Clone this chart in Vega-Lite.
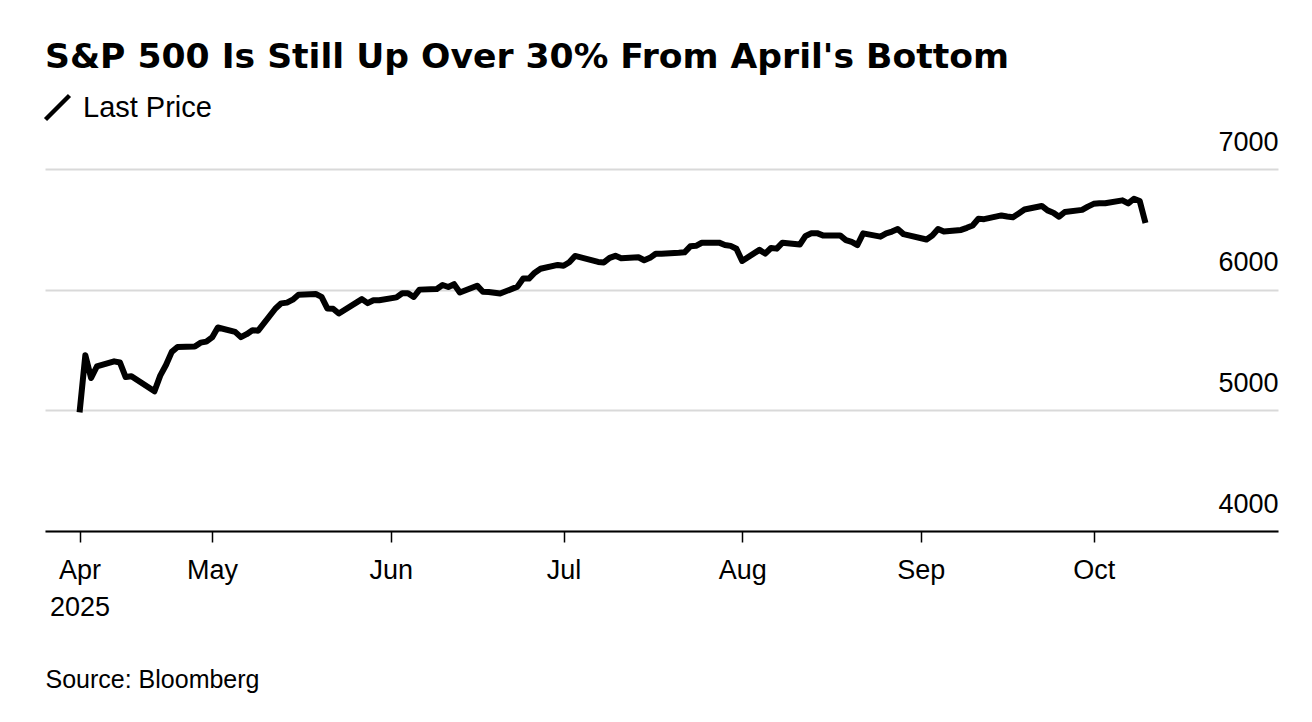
{
  "$schema": "https://vega.github.io/schema/vega-lite/v6.json",
  "autosize": "none",
  "width": 1233,
  "height": 362,
  "padding": {"left": 45, "top": 169, "right": 34, "bottom": 191},
  "background": "white",
  "title": {
    "text": "S&P 500 Is Still Up Over 30% From April's Bottom",
    "anchor": "start",
    "frame": "group",
    "font": "DejaVu Sans",
    "fontSize": 34.6,
    "fontWeight": "bold",
    "color": "black",
    "baseline": "alphabetic",
    "offset": -10
  },
  "config": {
    "view": {"stroke": null},
    "font": "Liberation Sans"
  },
  "data": {
    "values": [
      {"date": "2025-04-08", "price": 4982.77},
      {"date": "2025-04-09", "price": 5456.90},
      {"date": "2025-04-10", "price": 5268.05},
      {"date": "2025-04-11", "price": 5363.36},
      {"date": "2025-04-14", "price": 5405.97},
      {"date": "2025-04-15", "price": 5396.63},
      {"date": "2025-04-16", "price": 5275.70},
      {"date": "2025-04-17", "price": 5282.70},
      {"date": "2025-04-21", "price": 5158.20},
      {"date": "2025-04-22", "price": 5287.76},
      {"date": "2025-04-23", "price": 5375.86},
      {"date": "2025-04-24", "price": 5484.77},
      {"date": "2025-04-25", "price": 5525.21},
      {"date": "2025-04-28", "price": 5528.75},
      {"date": "2025-04-29", "price": 5560.83},
      {"date": "2025-04-30", "price": 5569.06},
      {"date": "2025-05-01", "price": 5604.14},
      {"date": "2025-05-02", "price": 5686.67},
      {"date": "2025-05-05", "price": 5650.38},
      {"date": "2025-05-06", "price": 5606.91},
      {"date": "2025-05-07", "price": 5631.28},
      {"date": "2025-05-08", "price": 5663.94},
      {"date": "2025-05-09", "price": 5659.91},
      {"date": "2025-05-12", "price": 5844.19},
      {"date": "2025-05-13", "price": 5886.55},
      {"date": "2025-05-14", "price": 5892.58},
      {"date": "2025-05-15", "price": 5916.93},
      {"date": "2025-05-16", "price": 5958.38},
      {"date": "2025-05-19", "price": 5963.60},
      {"date": "2025-05-20", "price": 5940.46},
      {"date": "2025-05-21", "price": 5844.61},
      {"date": "2025-05-22", "price": 5842.01},
      {"date": "2025-05-23", "price": 5802.82},
      {"date": "2025-05-27", "price": 5921.54},
      {"date": "2025-05-28", "price": 5888.55},
      {"date": "2025-05-29", "price": 5912.17},
      {"date": "2025-05-30", "price": 5911.69},
      {"date": "2025-06-02", "price": 5935.94},
      {"date": "2025-06-03", "price": 5970.37},
      {"date": "2025-06-04", "price": 5970.81},
      {"date": "2025-06-05", "price": 5939.30},
      {"date": "2025-06-06", "price": 6000.36},
      {"date": "2025-06-09", "price": 6005.88},
      {"date": "2025-06-10", "price": 6038.81},
      {"date": "2025-06-11", "price": 6022.24},
      {"date": "2025-06-12", "price": 6045.26},
      {"date": "2025-06-13", "price": 5976.97},
      {"date": "2025-06-16", "price": 6033.11},
      {"date": "2025-06-17", "price": 5982.72},
      {"date": "2025-06-18", "price": 5980.87},
      {"date": "2025-06-20", "price": 5967.84},
      {"date": "2025-06-23", "price": 6025.17},
      {"date": "2025-06-24", "price": 6092.18},
      {"date": "2025-06-25", "price": 6092.16},
      {"date": "2025-06-26", "price": 6141.02},
      {"date": "2025-06-27", "price": 6173.07},
      {"date": "2025-06-30", "price": 6204.95},
      {"date": "2025-07-01", "price": 6198.01},
      {"date": "2025-07-02", "price": 6227.42},
      {"date": "2025-07-03", "price": 6279.35},
      {"date": "2025-07-07", "price": 6229.98},
      {"date": "2025-07-08", "price": 6225.52},
      {"date": "2025-07-09", "price": 6263.26},
      {"date": "2025-07-10", "price": 6280.46},
      {"date": "2025-07-11", "price": 6259.75},
      {"date": "2025-07-14", "price": 6268.56},
      {"date": "2025-07-15", "price": 6243.76},
      {"date": "2025-07-16", "price": 6263.70},
      {"date": "2025-07-17", "price": 6297.36},
      {"date": "2025-07-18", "price": 6296.79},
      {"date": "2025-07-21", "price": 6305.60},
      {"date": "2025-07-22", "price": 6309.62},
      {"date": "2025-07-23", "price": 6358.91},
      {"date": "2025-07-24", "price": 6363.35},
      {"date": "2025-07-25", "price": 6388.64},
      {"date": "2025-07-28", "price": 6389.77},
      {"date": "2025-07-29", "price": 6370.86},
      {"date": "2025-07-30", "price": 6362.90},
      {"date": "2025-07-31", "price": 6339.39},
      {"date": "2025-08-01", "price": 6238.01},
      {"date": "2025-08-04", "price": 6329.94},
      {"date": "2025-08-05", "price": 6299.19},
      {"date": "2025-08-06", "price": 6345.06},
      {"date": "2025-08-07", "price": 6340.00},
      {"date": "2025-08-08", "price": 6389.45},
      {"date": "2025-08-11", "price": 6373.45},
      {"date": "2025-08-12", "price": 6445.76},
      {"date": "2025-08-13", "price": 6466.58},
      {"date": "2025-08-14", "price": 6468.54},
      {"date": "2025-08-15", "price": 6449.80},
      {"date": "2025-08-18", "price": 6449.15},
      {"date": "2025-08-19", "price": 6411.37},
      {"date": "2025-08-20", "price": 6395.78},
      {"date": "2025-08-21", "price": 6370.17},
      {"date": "2025-08-22", "price": 6466.91},
      {"date": "2025-08-25", "price": 6439.32},
      {"date": "2025-08-26", "price": 6465.94},
      {"date": "2025-08-27", "price": 6481.40},
      {"date": "2025-08-28", "price": 6501.86},
      {"date": "2025-08-29", "price": 6460.26},
      {"date": "2025-09-02", "price": 6415.54},
      {"date": "2025-09-03", "price": 6448.26},
      {"date": "2025-09-04", "price": 6502.08},
      {"date": "2025-09-05", "price": 6481.50},
      {"date": "2025-09-08", "price": 6495.15},
      {"date": "2025-09-09", "price": 6512.61},
      {"date": "2025-09-10", "price": 6532.04},
      {"date": "2025-09-11", "price": 6587.47},
      {"date": "2025-09-12", "price": 6584.29},
      {"date": "2025-09-15", "price": 6615.28},
      {"date": "2025-09-16", "price": 6606.76},
      {"date": "2025-09-17", "price": 6600.35},
      {"date": "2025-09-18", "price": 6631.96},
      {"date": "2025-09-19", "price": 6664.36},
      {"date": "2025-09-22", "price": 6693.75},
      {"date": "2025-09-23", "price": 6656.92},
      {"date": "2025-09-24", "price": 6637.97},
      {"date": "2025-09-25", "price": 6604.72},
      {"date": "2025-09-26", "price": 6643.70},
      {"date": "2025-09-29", "price": 6661.21},
      {"date": "2025-09-30", "price": 6688.46},
      {"date": "2025-10-01", "price": 6711.20},
      {"date": "2025-10-02", "price": 6715.35},
      {"date": "2025-10-03", "price": 6715.79},
      {"date": "2025-10-06", "price": 6740.28},
      {"date": "2025-10-07", "price": 6714.59},
      {"date": "2025-10-08", "price": 6753.72},
      {"date": "2025-10-09", "price": 6735.11},
      {"date": "2025-10-10", "price": 6552.51}
    ]
  },
  "mark": {"type": "line", "strokeWidth": 6, "strokeJoin": "round"},
  "encoding": {
    "x": {
      "field": "date",
      "type": "temporal",
      "scale": {
        "type": "utc",
        "domain": [
          {"year": 2025, "month": 4, "date": 2, "utc": true},
          {"year": 2025, "month": 11, "date": 2, "utc": true}
        ]
      },
      "axis": {
        "values": [
          {"year": 2025, "month": 4, "date": 8, "utc": true},
          {"year": 2025, "month": 5, "date": 1, "utc": true},
          {"year": 2025, "month": 6, "date": 1, "utc": true},
          {"year": 2025, "month": 7, "date": 1, "utc": true},
          {"year": 2025, "month": 8, "date": 1, "utc": true},
          {"year": 2025, "month": 9, "date": 1, "utc": true},
          {"year": 2025, "month": 10, "date": 1, "utc": true}
        ],
        "labelExpr": "datum.index == 0 ? [utcFormat(datum.value, '%b'), utcFormat(datum.value, '%Y')] : utcFormat(datum.value, '%b')",
        "grid": false,
        "domain": true,
        "domainColor": "black",
        "domainWidth": 2,
        "ticks": true,
        "tickColor": "black",
        "tickSize": 11,
        "tickWidth": 1.5,
        "labelFontSize": 27,
        "labelColor": "black",
        "labelPadding": 15,
        "labelLineHeight": 37,
        "labelOverlap": false,
        "labelFlush": false,
        "title": "Source: Bloomberg",
        "titleAnchor": "start",
        "titleAlign": "left",
        "titleBaseline": "alphabetic",
        "titleX": 0,
        "titleY": 156,
        "titleFontSize": 25,
        "titleFontWeight": "normal",
        "titleColor": "black"
      }
    },
    "y": {
      "field": "price",
      "type": "quantitative",
      "scale": {"domain": [4000, 7000], "nice": false, "zero": false},
      "axis": {
        "orient": "right",
        "values": [4000, 5000, 6000, 7000],
        "format": "d",
        "grid": true,
        "gridColor": "#d9d9d9",
        "gridWidth": 2,
        "domain": false,
        "ticks": false,
        "tickSize": 0,
        "labelAlign": "right",
        "labelBaseline": "alphabetic",
        "labelPadding": 0,
        "labelOffset": -19,
        "labelFontSize": 27,
        "labelColor": "black",
        "labelFlush": false,
        "labelOverlap": false,
        "title": null
      }
    },
    "color": {
      "datum": "Last Price",
      "type": "nominal",
      "scale": {"range": ["black"]},
      "legend": {
        "title": null,
        "orient": "none",
        "legendX": -2,
        "legendY": -76,
        "padding": 0,
        "symbolType": "M-1,1L1,-1",
        "symbolSize": 576,
        "symbolStrokeWidth": 4.5,
        "symbolStrokeColor": "black",
        "symbolFillColor": "transparent",
        "labelFont": "Liberation Sans",
        "labelFontSize": 29,
        "labelColor": "black",
        "labelOffset": 11
      }
    }
  }
}
